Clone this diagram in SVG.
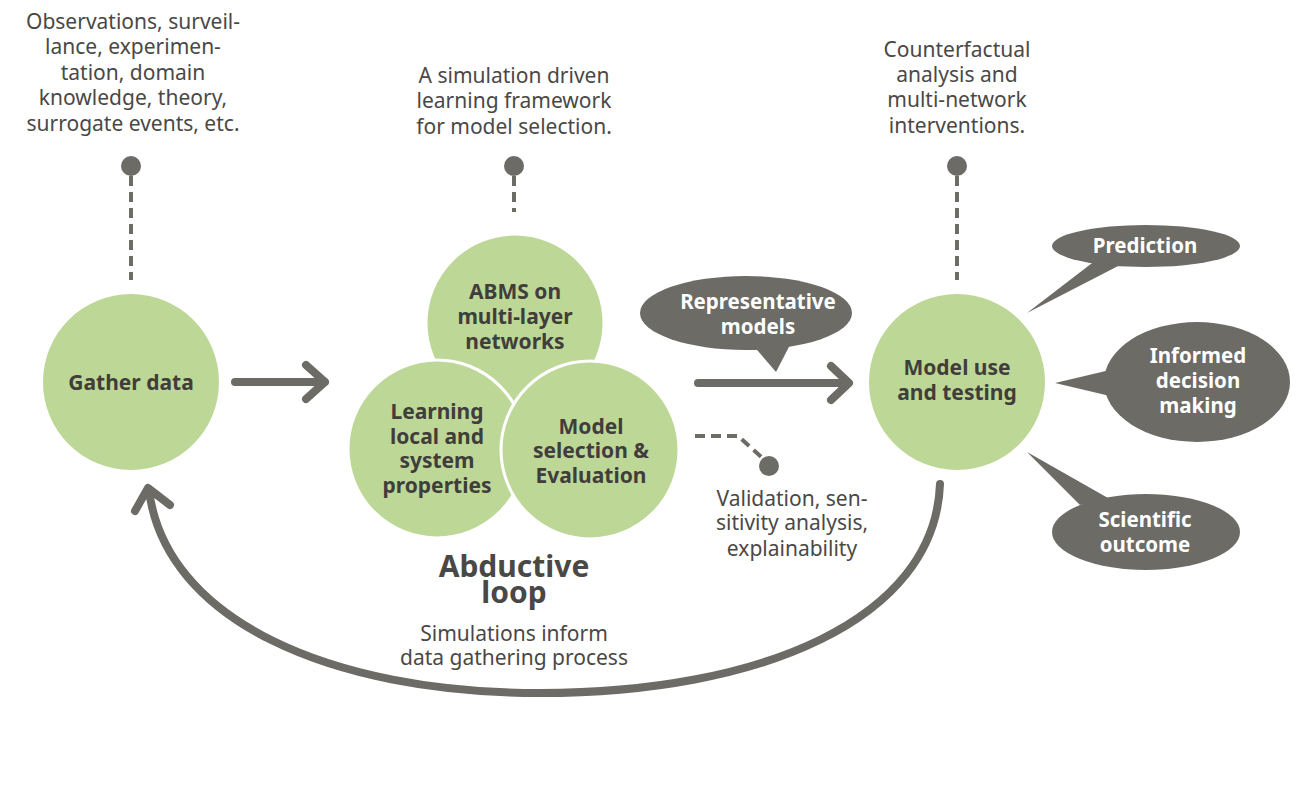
<svg xmlns="http://www.w3.org/2000/svg" width="1298" height="785" viewBox="0 0 1298 785">
<defs>
<style>
.g{fill:#bdd797;}
.gw{fill:#bdd797;stroke:#ffffff;stroke-width:3;}
.b{fill:#6c6b66;}
.t{font-family:"Noto Sans","Open Sans",sans-serif;font-size:21px;fill:#4a4846;text-anchor:middle;}
.tb{font-family:"Noto Sans","Open Sans",sans-serif;font-size:21px;font-weight:bold;fill:#403d3b;text-anchor:middle;}
.tw{font-family:"Noto Sans","Open Sans",sans-serif;font-size:20.5px;font-weight:bold;fill:#ffffff;text-anchor:middle;}
.big{font-family:"Noto Sans","Open Sans",sans-serif;font-size:30px;font-weight:bold;fill:#4a4846;text-anchor:middle;}
.ar{fill:none;stroke:#6c6b66;stroke-width:8;stroke-linecap:round;stroke-linejoin:round;}
.ds{fill:none;stroke:#6c6b66;stroke-width:4;stroke-dasharray:10 6;}
</style>
</defs>
<rect width="1298" height="785" fill="#ffffff"/>

<g id="connectors">
<path class="ar" d="M235 382 L325 382 M306 365 L325 382 L306 399"/>
<path class="ar" d="M698 383 L848 383 M831 366 L849 383 L831 400"/>
<path class="ar" d="M940 484 C935 620 760 693 540 693 C330 693 165 620 149 490 M135 511 L148 488 L170 505"/>
<path class="ds" d="M131 176 L131 280"/>
<path class="ds" d="M514 176 L514 212"/>
<path class="ds" d="M957 176 L957 280"/>
<path class="ds" d="M695 436 L738 436 L768 463"/>
<circle class="b" cx="131" cy="166" r="10"/>
<circle class="b" cx="514" cy="166" r="10"/>
<circle class="b" cx="957" cy="166" r="10"/>
<circle class="b" cx="769" cy="466" r="10"/>
</g>

<g id="note-data">
<text class="t" x="133" y="29">Observations, surveil-</text>
<text class="t" x="133" y="54">lance, experimen-</text>
<text class="t" x="133" y="80">tation, domain</text>
<text class="t" x="133" y="105">knowledge, theory,</text>
<text class="t" x="133" y="131">surrogate events, etc.</text>
</g>

<g id="note-framework">
<text class="t" x="514" y="83">A simulation driven</text>
<text class="t" x="514" y="108">learning framework</text>
<text class="t" x="514" y="134">for model selection.</text>
</g>

<g id="note-counterfactual">
<text class="t" x="957" y="57">Counterfactual</text>
<text class="t" x="957" y="82">analysis and</text>
<text class="t" x="957" y="107">multi-network</text>
<text class="t" x="957" y="133">interventions.</text>
</g>

<g id="gather">
<circle class="g" cx="131" cy="382" r="88"/>
<text class="tb" x="131" y="390">Gather data</text>
</g>

<g id="abms">
<circle class="gw" cx="515" cy="323" r="89"/>
<text class="tb" x="515" y="299">ABMS on</text>
<text class="tb" x="515" y="324">multi-layer</text>
<text class="tb" x="515" y="349">networks</text>
</g>

<g id="learning">
<circle class="gw" cx="437" cy="449" r="89"/>
<text class="tb" x="437" y="419">Learning</text>
<text class="tb" x="437" y="444">local and</text>
<text class="tb" x="437" y="468">system</text>
<text class="tb" x="437" y="493">properties</text>
</g>

<g id="model-selection">
<circle class="gw" cx="590" cy="450" r="89"/>
<text class="tb" x="591" y="434">Model</text>
<text class="tb" x="591" y="458">selection &amp;</text>
<text class="tb" x="591" y="483">Evaluation</text>
</g>

<g id="abductive-label">
<text class="big" x="514" y="577">Abductive</text>
<text class="big" x="514" y="603">loop</text>
<text class="t" x="514" y="641">Simulations inform</text>
<text class="t" x="514" y="665">data gathering process</text>
</g>

<g id="validation">
<text class="t" x="792" y="506">Validation, sen-</text>
<text class="t" x="792" y="530">sitivity analysis,</text>
<text class="t" x="792" y="556">explainability</text>
</g>

<g id="representative">
<path class="b" d="M752 344 L776 372 L792 341 Z"/>
<ellipse class="b" cx="746" cy="313" rx="106" ry="37"/>
<text class="tw" x="758" y="309">Representative</text>
<text class="tw" x="758" y="334">models</text>
</g>

<g id="model-use">
<circle class="g" cx="957" cy="382" r="88"/>
<text class="tb" x="957" y="375">Model use</text>
<text class="tb" x="957" y="400">and testing</text>
</g>

<g id="prediction">
<path class="b" d="M1096 260 L1027 313 L1122 264 Z"/>
<ellipse class="b" cx="1146" cy="246" rx="94" ry="21"/>
<text class="tw" x="1145" y="253">Prediction</text>
</g>

<g id="informed">
<path class="b" d="M1110 370 L1055 383 L1110 396 Z"/>
<ellipse class="b" cx="1197" cy="382" rx="93" ry="60"/>
<text class="tw" x="1198" y="363">Informed</text>
<text class="tw" x="1198" y="388">decision</text>
<text class="tw" x="1198" y="413">making</text>
</g>

<g id="scientific">
<path class="b" d="M1027 452 L1108 498 L1080 505 Z"/>
<ellipse class="b" cx="1146" cy="532" rx="94" ry="38"/>
<text class="tw" x="1145" y="527">Scientific</text>
<text class="tw" x="1145" y="552">outcome</text>
</g>
</svg>
